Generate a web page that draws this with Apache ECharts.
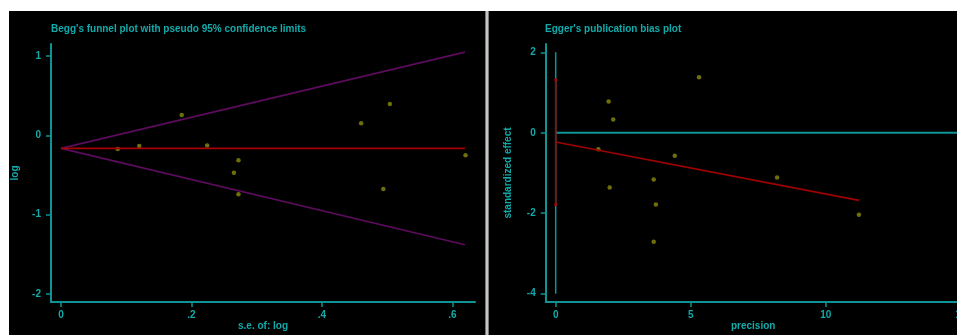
<!DOCTYPE html>
<html>
<head>
<meta charset="utf-8">
<script src="https://cdn.jsdelivr.net/npm/echarts@6/dist/echarts.min.js"></script>
<style>
html,body{margin:0;padding:0;background:#fff;}
#c{width:957px;height:335px;}
</style>
</head>
<body>
<div id="c"></div>
<script>
// ---- Left panel: Begg's funnel plot ----
const beggSe  = [0.087, 0.120, 0.185, 0.224, 0.272, 0.265, 0.272, 0.460, 0.504, 0.494, 0.620];
const beggLog = [-0.173, -0.135, 0.256, -0.130, -0.315, -0.471, -0.744, 0.151, 0.395, -0.677, -0.252];
const funnelSe    = [0, 0.619];
const funnelUpper = [-0.165, 1.048];
const funnelLower = [-0.165, -1.378];
const pooledLine  = [-0.165, -0.165];
const beggXTicks = [0, 0.2, 0.4, 0.6];
const beggXLabels = ['0', '.2', '.4', '.6'];
const beggYTicks = [-2, -1, 0, 1];

// ---- Right panel: Egger's publication bias plot ----
const eggPrecision = [11.23, 8.2, 5.31, 4.41, 3.63, 3.71, 3.63, 2.13, 1.96, 2.00, 1.58];
const eggStdEffect = [-2.04, -1.11, 1.38, -0.57, -1.16, -1.78, -2.71, 0.33, 0.78, -1.36, -0.41];
const eggRegX = [0, 11.23];
const eggRegY = [-0.23, -1.68];
const eggCiY  = [1.32, -1.78];
const eggRefY = [2, -4];
const eggXTicks = [0, 5, 10, 15];
const eggYTicks = [-4, -2, 0, 2];

const TXT = '#12aaaa';
const AX = '#0e9494';
const FONT = 'Liberation Sans';
const FS = 10;

function pairs(xs, ys){ return xs.map((x,i)=>[x, ys[i]]); }

function xAxisCfg(gridIndex, min, max, ticks, fmt, name){
  return {
    type:'value', gridIndex, min, max, name, nameLocation:'middle', nameGap:19, nameMoveOverlap:false,
    nameTextStyle:{color:TXT, fontSize:FS, fontFamily:FONT, fontWeight:'bold', verticalAlign:'top'},
    axisLine:{show:true, onZero:false, lineStyle:{color:AX, width:2}},
    axisTick:{show:true, inside:false, length:5, lineStyle:{color:AX, width:1.5}, customValues:ticks},
    axisLabel:{color:TXT, fontSize:FS, fontFamily:FONT, fontWeight:'bold', margin:8, customValues:ticks,
               formatter:fmt, showMinLabel:true, showMaxLabel:true, hideOverlap:false},
    splitLine:{show:false}
  };
}
function yAxisCfg(gridIndex, min, max, ticks, name, gap){
  return {
    type:'value', gridIndex, min, max, name, nameLocation:'middle', nameGap:gap, nameRotate:90, nameMoveOverlap:false,
    nameTextStyle:{color:TXT, fontSize:FS, fontFamily:FONT, fontWeight:'bold'},
    axisLine:{show:true, onZero:false, lineStyle:{color:AX, width:2}},
    axisTick:{show:true, inside:false, length:5, lineStyle:{color:AX, width:1.5}, customValues:ticks},
    axisLabel:{color:TXT, fontSize:FS, fontFamily:FONT, fontWeight:'bold', margin:10, customValues:ticks,
               showMinLabel:true, showMaxLabel:true},
    splitLine:{show:false}
  };
}

const chart = echarts.init(document.getElementById('c'), null, {renderer:'canvas'});
chart.setOption({
  backgroundColor:'#ffffff',
  animation:false,
  graphic:[
    {type:'rect', z:-10, shape:{x:9, y:11, width:476, height:324}, style:{fill:'#000'}},
    {type:'rect', z:-10, shape:{x:489, y:11, width:468, height:324}, style:{fill:'#000'}},
    {type:'rect', z:-10, shape:{x:485, y:11, width:4, height:324}, style:{fill:'#777'}},
    {type:'rect', z:-9, shape:{x:486, y:11, width:2, height:324}, style:{fill:'#c4c4c4'}}
  ],
  title:[
    {text:"Begg's funnel plot with pseudo 95% confidence limits", left:51, top:24, padding:0,
     textStyle:{color:TXT, fontSize:FS, fontFamily:FONT, fontWeight:'bold'}},
    {text:"Egger's publication bias plot", left:545, top:24, padding:0,
     textStyle:{color:TXT, fontSize:FS, fontFamily:FONT, fontWeight:'bold'}}
  ],
  grid:[
    {left:51, right:482, top:44, bottom:33, outerBoundsMode:'none', containLabel:false},
    {left:545.7, right:-3.7, top:44, bottom:33, outerBoundsMode:'none', containLabel:false}
  ],
  xAxis:[
    xAxisCfg(0, -0.0153, 0.6345, beggXTicks, v=>{const i=beggXTicks.indexOf(v); return i>=0?beggXLabels[i]:'';}, 's.e. of: log'),
    xAxisCfg(1, -0.37, 15, eggXTicks, v=>String(v), 'precision')
  ],
  yAxis:[
    yAxisCfg(0, -2.1, 1.15, beggYTicks, 'log', 31),
    yAxisCfg(1, -4.206, 2.206, eggYTicks, 'standardized effect', 32)
  ],
  series:[
    {type:'line', xAxisIndex:0, yAxisIndex:0, data:pairs(funnelSe, funnelUpper), symbol:'none',
     lineStyle:{color:'#5c0c5c', width:1.6}, silent:true},
    {type:'line', xAxisIndex:0, yAxisIndex:0, data:pairs(funnelSe, funnelLower), symbol:'none',
     lineStyle:{color:'#5c0c5c', width:1.6}, silent:true},
    {type:'line', xAxisIndex:0, yAxisIndex:0, data:pairs(funnelSe, pooledLine), symbol:'none',
     lineStyle:{color:'#a80000', width:1.6}, silent:true},
    {type:'scatter', xAxisIndex:0, yAxisIndex:0, data:pairs(beggSe, beggLog), symbolSize:4.5,
     itemStyle:{color:'#8a8a0c'}},

    {type:'line', xAxisIndex:1, yAxisIndex:1, data:[[0,eggRefY[0]],[0,eggRefY[1]]], symbol:'none',
     lineStyle:{color:AX, width:1.5}, silent:true},
    {type:'line', xAxisIndex:1, yAxisIndex:1, data:[[0,0],[eggXTicks[3],0]], symbol:'none',
     lineStyle:{color:AX, width:2}, silent:true},
    {type:'line', xAxisIndex:1, yAxisIndex:1, data:[[0,eggCiY[0]],[0,eggCiY[1]]], symbol:'circle', symbolSize:3,
     itemStyle:{color:'#b00000'}, lineStyle:{color:'#a80000', width:1.6}, silent:true},
    {type:'line', xAxisIndex:1, yAxisIndex:1, data:pairs(eggRegX, eggRegY), symbol:'none',
     lineStyle:{color:'#a00000', width:1.6}, silent:true},
    {type:'scatter', xAxisIndex:1, yAxisIndex:1, data:pairs(eggPrecision, eggStdEffect), symbolSize:4.5,
     itemStyle:{color:'#8a8a0c'}}
  ]
});
</script>
</body>
</html>
